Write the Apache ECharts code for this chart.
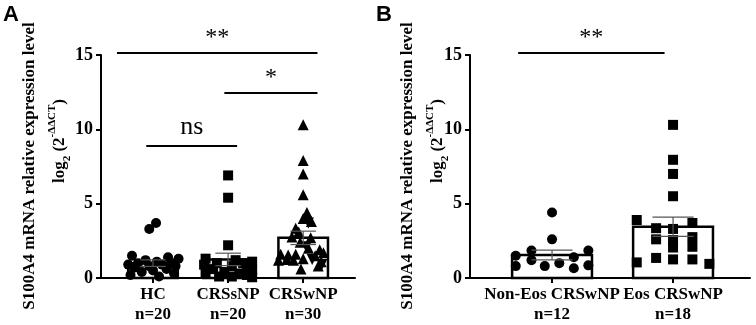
<!DOCTYPE html>
<html>
<head>
<meta charset="utf-8">
<script src="https://cdn.jsdelivr.net/npm/echarts@6/dist/echarts.min.js"></script>
<style>
html, body { margin: 0; padding: 0; background: #fff; }
#main { width: 756px; height: 325px; }
</style>
</head>
<body>
<div id="main"></div>
<script>
// ---- panel A ----
const catsA = ['HC', 'CRSsNP', 'CRSwNP'];
const nA = [20, 20, 30];
const meanA = [1.0, 1.25, 2.7];
const semA = [0.22, 0.42, 0.45];
// points: [jitter offset, value]
const hc = [[-0.05, 3.3], [0.04, 3.7], [-0.28, 1.5], [0.2, 1.4], [0.34, 1.3], [-0.1, 1.2], [0.05, 1.1],
  [-0.2, 1.0], [0.25, 1.0], [-0.33, 0.9], [0.12, 0.9], [-0.05, 0.8], [0.3, 0.8], [-0.25, 0.7],
  [0.18, 0.6], [0.0, 0.5], [-0.15, 0.4], [0.28, 0.3], [-0.3, 0.2], [0.08, 0.1]];
const crssnp = [[0.0, 6.9], [0.0, 5.4], [0.0, 2.2], [-0.3, 1.3], [0.1, 1.2], [0.32, 1.1], [-0.15, 1.0],
  [0.2, 1.0], [-0.32, 0.9], [0.05, 0.8], [0.25, 0.7], [-0.2, 0.6], [0.32, 0.5], [-0.05, 0.4],
  [0.15, 0.3], [-0.3, 0.3], [0.25, 0.2], [-0.12, 0.1], [0.05, 0.1], [0.32, 0.05]];
const crswnpUp = [[0.0, 10.3], [0.0, 7.9], [0.0, 7.0], [0.0, 5.6], [0.05, 4.4], [0.0, 4.0],
  [0.11, 3.8], [-0.1, 3.35], [-0.06, 3.1], [-0.15, 2.75], [0.1, 2.7], [-0.04, 2.4],
  [0.07, 2.0], [0.22, 1.9], [-0.3, 1.6], [-0.2, 1.55], [-0.1, 1.6], [0.16, 1.5],
  [0.27, 1.7], [-0.33, 1.2], [-0.22, 1.25], [-0.13, 1.2], [0.0, 1.3], [0.24, 1.1],
  [-0.03, 0.6], [0.2, 0.8]];
const crswnpDown = [[0.07, 3.7], [0.04, 2.1], [0.12, 1.25], [0.25, 0.9]];

// ---- panel B ----
const catsB = ['Non-Eos CRSwNP', 'Eos CRSwNP'];
const nB = [12, 18];
const meanB = [1.55, 3.45];
const semB = [0.33, 0.65];
const nonEos = [[0, 4.4], [0, 2.6], [-0.17, 1.85], [0.3, 1.85], [-0.3, 1.5], [-0.17, 1.2], [0.18, 1.4],
  [0.06, 1.0], [-0.3, 0.8], [-0.06, 0.8], [0.18, 0.65], [0.3, 0.85]];
const eos = [[0, 10.3], [0, 7.95], [0, 7.0], [0, 5.5], [-0.3, 3.9], [0.16, 3.7], [-0.14, 3.35], [0, 3.3],
  [-0.14, 2.6], [0.16, 2.75], [0, 2.55], [0, 2.05], [0.16, 2.1], [-0.14, 1.35], [0, 1.25],
  [0.16, 1.25], [-0.3, 1.05], [0.3, 0.95]];

// significance brackets: [from, to, y] and their labels
const bracketsA = [[-0.48, 2.19, 15.13], [0.95, 2.19, 12.44], [-0.09, 1.12, 8.88]];
const bracketTextA = ['**', '*', 'ns'];
const bracketsB = [[-0.28, 0.93, 15.13]];
const bracketTextB = ['**'];

const serif = '"Liberation Serif", "Times New Roman", serif';
const black = '#000';

function jitter(points, cat) {
  return points.map(p => [cat + p[0], p[1]]);
}

function xAxisFor(grid, cats, ns, min, max) {
  const idx = cats.map((c, i) => i);
  return {
    type: 'value', gridIndex: grid, min: min, max: max,
    axisLine: { onZero: false, lineStyle: { color: black, width: 2 } },
    axisTick: { customValues: idx, length: 5, lineStyle: { color: black, width: 2 } },
    axisLabel: {
      customValues: idx,
      margin: 7,
      formatter: v => '{a|' + cats[Math.round(v)] + '}\n{a|n=' + ns[Math.round(v)] + '}',
      rich: { a: { fontFamily: serif, fontWeight: 'bold', fontSize: 17, lineHeight: 20, color: black } }
    },
    splitLine: { show: false }
  };
}

function yAxisFor(grid) {
  return {
    type: 'value', gridIndex: grid, min: 0, max: 15, interval: 5,
    axisLine: { show: true, onZero: false, lineStyle: { color: black, width: 2 } },
    axisTick: { show: true, length: 5, lineStyle: { color: black, width: 2 } },
    axisLabel: { fontFamily: serif, fontWeight: 'bold', fontSize: 18, color: black, margin: 8 },
    splitLine: { show: false }
  };
}

function barSeries(ax, means, sems) {
  return {
    type: 'custom', xAxisIndex: ax, yAxisIndex: ax, z: 1,
    data: means.map((m, i) => [i, m, sems[i]]),
    renderItem: function(params, api) {
      const i = api.value(0), m = api.value(1);
      const p0 = api.coord([i - 0.33, 0]);
      const p1 = api.coord([i + 0.33, m]);
      return {
        type: 'rect',
        shape: { x: p0[0], y: p1[1], width: p1[0] - p0[0], height: p0[1] - p1[1] },
        style: { fill: '#fff', stroke: black, lineWidth: 2.5 }
      };
    }
  };
}

function errSeries(ax, means, sems) {
  return {
    type: 'custom', xAxisIndex: ax, yAxisIndex: ax, z: 5,
    data: means.map((m, i) => [i, m, sems[i]]),
    renderItem: function(params, api) {
      const i = api.value(0), m = api.value(1), s = api.value(2);
      const hi = api.coord([i, m + s]);
      const lo = api.coord([i, m - s]);
      const cw = api.size([0.17, 0])[0];
      const st = { stroke: '#555', lineWidth: 1.2 };
      return {
        type: 'group',
        children: [
          { type: 'line', shape: { x1: hi[0], y1: hi[1], x2: lo[0], y2: lo[1] }, style: st },
          { type: 'line', shape: { x1: hi[0] - cw, y1: hi[1], x2: hi[0] + cw, y2: hi[1] }, style: st },
          { type: 'line', shape: { x1: lo[0] - cw, y1: lo[1], x2: lo[0] + cw, y2: lo[1] }, style: st }
        ]
      };
    }
  };
}

function bracketSeries(ax, brackets, texts) {
  return {
    type: 'custom', xAxisIndex: ax, yAxisIndex: ax, z: 3,
    data: brackets,
    renderItem: function(params, api) {
      const a = api.coord([api.value(0), api.value(2)]);
      const b = api.coord([api.value(1), api.value(2)]);
      const t = texts[params.dataIndex];
      const big = t === 'ns';
      return {
        type: 'group',
        children: [
          { type: 'line', shape: { x1: a[0], y1: a[1], x2: b[0], y2: a[1] }, style: { stroke: black, lineWidth: 2 } },
          {
            type: 'text', x: (a[0] + b[0]) / 2, y: a[1] - (big ? 6 : 3),
            style: {
              text: t, fill: black, align: 'center', verticalAlign: 'bottom',
              font: (big ? '26px ' : '24px ') + serif
            }
          }
        ]
      };
    }
  };
}

function scatter(ax, data, symbol, size, rotate) {
  return {
    type: 'scatter', xAxisIndex: ax, yAxisIndex: ax, z: 4,
    symbol: symbol, symbolSize: size, symbolRotate: rotate || 0,
    itemStyle: { color: black, opacity: 1 },
    data: data
  };
}

const titleRich = {
  l: { fontFamily: serif, fontWeight: 'bold', fontSize: 17, lineHeight: 26, fill: black },
  s: { fontFamily: serif, fontWeight: 'bold', fontSize: 11, lineHeight: 12, verticalAlign: 'bottom', fill: black },
  p: { fontFamily: serif, fontWeight: 'bold', fontSize: 11, lineHeight: 12, verticalAlign: 'top', fill: black }
};

function titles(x0) {
  return [
    {
      type: 'text', x: x0 + 30, y: 166, rotation: Math.PI / 2,
      style: { text: 'S100A4 mRNA relative expression level', font: 'bold 17px ' + serif, fill: black, align: 'center', verticalAlign: 'middle' }
    },
    {
      type: 'text', x: x0 + 60, y: 141, rotation: Math.PI / 2,
      style: { text: '{l|log}{s|2}{l| (2}{p|-ΔΔCT}{l|)}', rich: titleRich, align: 'center', verticalAlign: 'middle' }
    }
  ];
}

const chart = echarts.init(document.getElementById('main'));
chart.setOption({
  animation: false,
  backgroundColor: '#fff',
  grid: [
    { left: 101, right: 401, top: 55, bottom: 47 },
    { left: 470, right: 6, top: 55, bottom: 47 }
  ],
  xAxis: [xAxisFor(0, catsA, nA, -0.693, 2.69), xAxisFor(1, catsB, nB, -0.678, 1.636)],
  yAxis: [yAxisFor(0), yAxisFor(1)],
  graphic: [
    { type: 'text', x: 3, y: 4, style: { text: 'A', font: 'bold 22px "Liberation Sans", Arial, sans-serif', fill: black } },
    { type: 'text', x: 376, y: 4, style: { text: 'B', font: 'bold 22px "Liberation Sans", Arial, sans-serif', fill: black } }
  ].concat(titles(0), titles(378)),
  series: [
    barSeries(0, meanA, semA),
    scatter(0, jitter(hc, 0), 'circle', 10),
    scatter(0, jitter(crssnp, 1), 'rect', 10),
    scatter(0, jitter(crswnpUp, 2), 'triangle', 11),
    scatter(0, jitter(crswnpDown, 2), 'triangle', 11, 180),
    errSeries(0, meanA, semA),
    bracketSeries(0, bracketsA, bracketTextA),
    barSeries(1, meanB, semB),
    scatter(1, jitter(nonEos, 0), 'circle', 10),
    scatter(1, jitter(eos, 1), 'rect', 10),
    errSeries(1, meanB, semB),
    bracketSeries(1, bracketsB, bracketTextB)
  ]
});
</script>
</body>
</html>
